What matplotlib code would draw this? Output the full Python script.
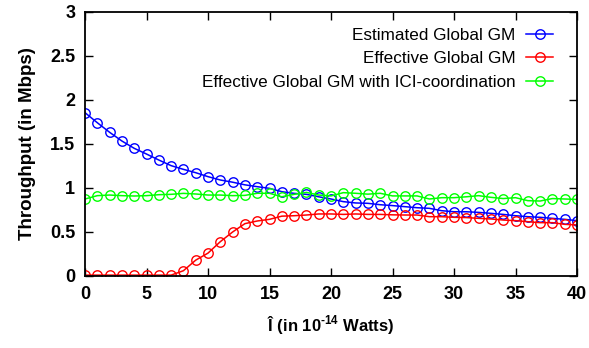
import matplotlib
matplotlib.use("Agg")
import matplotlib.pyplot as plt
import numpy as np

# power values 0..40 (in 10^-14 W)
power = list(range(41))

estimated_gm = [1.856, 1.742, 1.633, 1.534, 1.451, 1.386, 1.318, 1.254, 1.212, 1.174,
                1.129, 1.091, 1.066, 1.036, 1.015, 0.996, 0.958, 0.939, 0.928, 0.900,
                0.875, 0.845, 0.830, 0.826, 0.810, 0.800, 0.788, 0.776, 0.769, 0.742,
                0.730, 0.730, 0.723, 0.712, 0.700, 0.685, 0.674, 0.667, 0.655, 0.644,
                0.629]
effective_gm = [0.01, 0.01, 0.01, 0.01, 0.01, 0.01, 0.01, 0.01, 0.06, 0.18,
                0.26, 0.39, 0.50, 0.595, 0.625, 0.644, 0.680, 0.685, 0.693, 0.705,
                0.705, 0.700, 0.705, 0.700, 0.700, 0.695, 0.693, 0.693, 0.674, 0.674,
                0.667, 0.664, 0.655, 0.648, 0.636, 0.629, 0.617, 0.606, 0.606, 0.587,
                0.580]
effective_ici = [0.875, 0.913, 0.920, 0.913, 0.909, 0.913, 0.924, 0.928, 0.939, 0.932,
                 0.920, 0.920, 0.913, 0.916, 0.940, 0.940, 0.900, 0.928, 0.950, 0.920,
                 0.910, 0.947, 0.940, 0.930, 0.940, 0.910, 0.910, 0.910, 0.875, 0.890,
                 0.890, 0.900, 0.913, 0.894, 0.880, 0.890, 0.856, 0.852, 0.880, 0.875,
                 0.870]

labels = ["Estimated Global GM", "Effective Global GM",
          "Effective Global GM with ICI-coordination"]
colors = ["#0000ff", "#ff0000", "#00ff00"]

plt.rcParams["font.family"] = ["Liberation Sans", "DejaVu Sans"]
plt.rcParams["mathtext.fontset"] = "custom"
plt.rcParams["mathtext.rm"] = "Liberation Sans:bold"
plt.rcParams["mathtext.bf"] = "Liberation Sans:bold"

fig = plt.figure(figsize=(5.89, 3.48), dpi=100)
ax = fig.add_axes([85 / 589, 72 / 348, 492 / 589, 264 / 348])

for ys, lab, c in zip([estimated_gm, effective_gm, effective_ici], labels, colors):
    ax.plot(power, ys, color=c, lw=1.1, marker="o", markersize=6.8,
            markerfacecolor="none", markeredgecolor=c, markeredgewidth=1.0, label=lab)

ax.set_xlim(0, 40)
ax.set_ylim(0, 3)
ax.set_xticks(np.arange(0, 41, 5))
ax.set_yticks([0, 0.5, 1, 1.5, 2, 2.5, 3])
ax.set_yticklabels(["0", "0.5", "1", "1.5", "2", "2.5", "3"])
ax.tick_params(direction="in", length=6, width=1, top=True, right=True,
               labelsize=13, pad=7)
for lbl in ax.get_xticklabels() + ax.get_yticklabels():
    lbl.set_fontweight("bold")
for sp in ax.spines.values():
    sp.set_linewidth(1.3)

ax.set_ylabel("Throughput (in Mbps)", fontsize=13.5, fontweight="bold", labelpad=10)
ax.set_xlabel(r"Î (in 10$^{\text{-14}}$ Watts)", fontsize=12, fontweight="bold", labelpad=8)

leg = ax.legend(loc="upper right", markerfirst=False, frameon=False, fontsize=12.3,
                handlelength=1.6, handletextpad=0.6, labelspacing=0.48,
                borderaxespad=0.0, borderpad=0.3, bbox_to_anchor=(0.962, 0.958))

fig.savefig("out.png", dpi=100)
